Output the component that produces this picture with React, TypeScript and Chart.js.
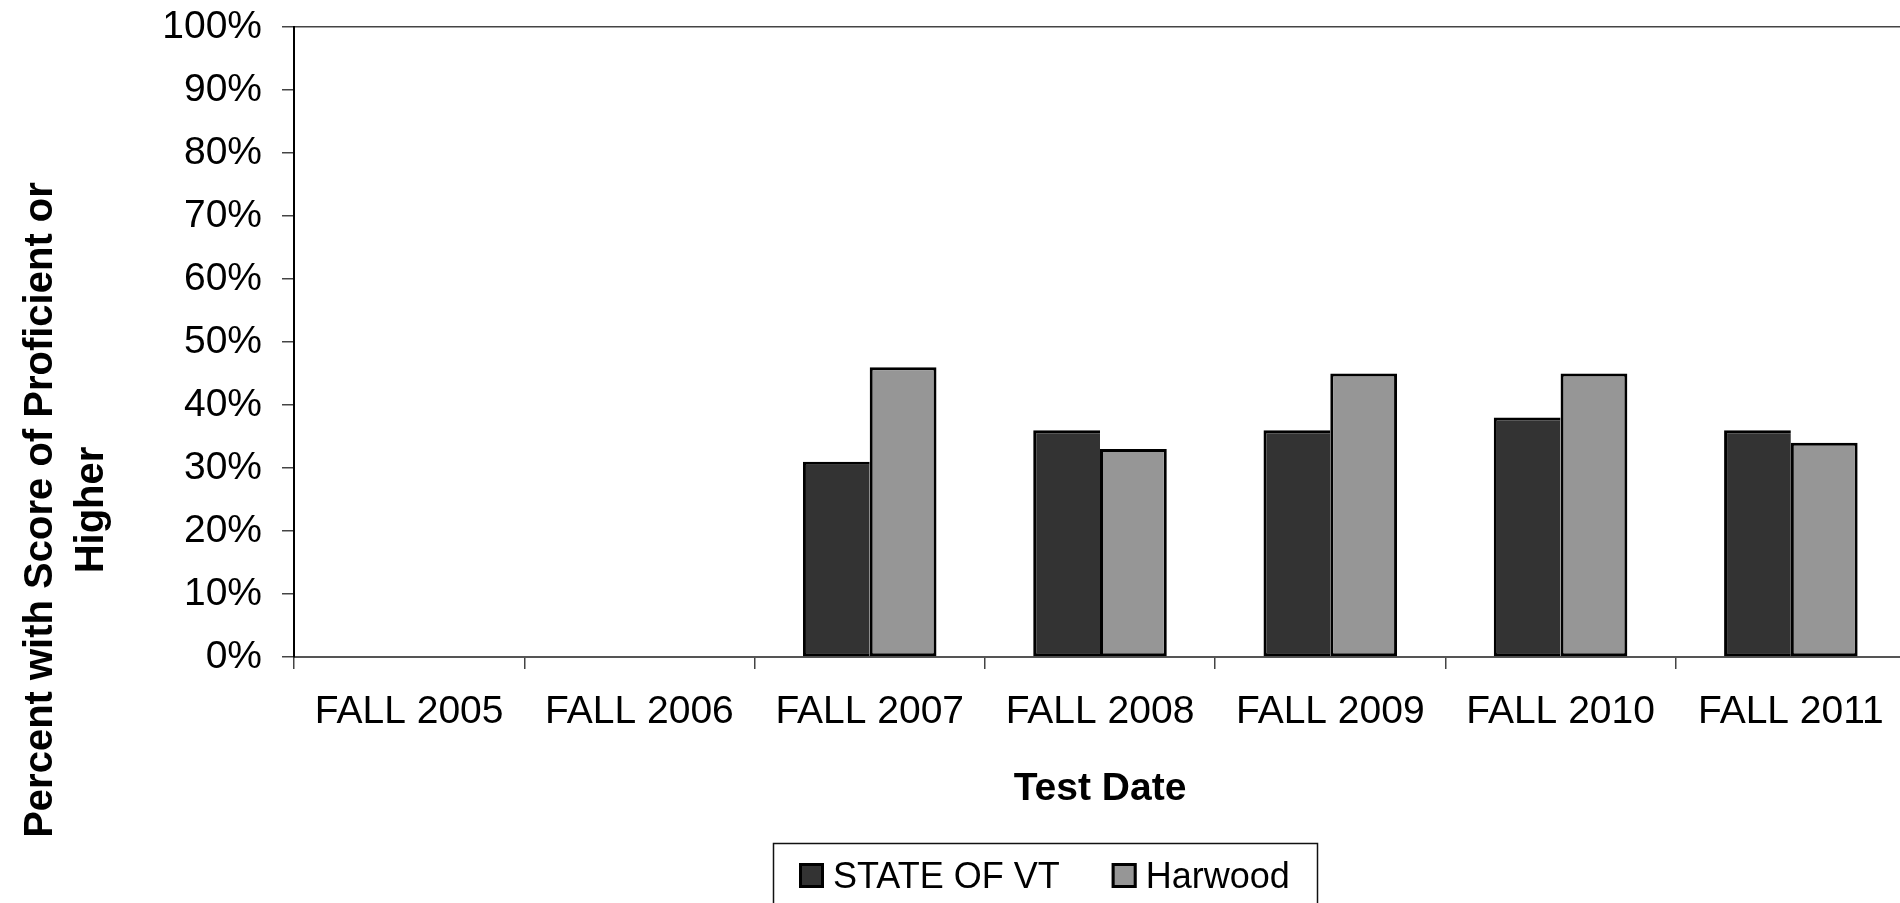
import React, { useEffect, useRef } from "react";
import { Chart, registerables } from "chart.js";

Chart.register(...registerables);

const categories = ["FALL 2005", "FALL 2006", "FALL 2007", "FALL 2008", "FALL 2009", "FALL 2010", "FALL 2011"];
const stateVT: (number | null)[] = [null, null, 31, 36, 36, 38, 36];
const harwood: (number | null)[] = [null, null, 46, 33, 45, 45, 34];
const seriesLabels = ["STATE OF VT", "Harwood"];
const seriesColors = ["#333333", "#969696"];
const yMin = 0;
const yMax = 100;
const yStep = 10;
const yTitleLines = ["Percent with Score of Proficient or", "Higher"];
const xTitle = "Test Date";

const FONT = "'Liberation Sans', Arial, Helvetica, sans-serif";

const customPlugin = {
  id: "customDecor",
  afterDraw(chart: any) {
    const ctx: CanvasRenderingContext2D = chart.ctx;
    // Y axis title (rotated, two lines)
    ctx.save();
    ctx.font = `bold 40px ${FONT}`;
    ctx.fillStyle = "#000";
    ctx.textAlign = "center";
    ctx.textBaseline = "alphabetic";
    ctx.translate(0, 510);
    ctx.rotate(-Math.PI / 2);
    ctx.fillText(yTitleLines[0], 0, 52);
    ctx.fillText(yTitleLines[1], 0, 103);
    ctx.restore();

    // Legend with border
    ctx.save();
    ctx.font = `36px ${FONT}`;
    ctx.textAlign = "left";
    ctx.textBaseline = "alphabetic";
    const size = 25;
    const top = 863;
    const baseline = 888;
    let x = 799;
    chart.data.datasets.forEach((d: any) => {
      ctx.fillStyle = d.backgroundColor;
      ctx.fillRect(x, top, size, size);
      ctx.strokeStyle = "#000";
      ctx.lineWidth = 3;
      ctx.strokeRect(x + 1.5, top + 1.5, size - 3, size - 3);
      x += size + 9;
      ctx.fillStyle = "#000";
      ctx.fillText(d.label, x, baseline);
      x += ctx.measureText(d.label).width + 52;
    });
    ctx.strokeStyle = "#111";
    ctx.lineWidth = 1.5;
    ctx.strokeRect(773.5, 843.5, 544, 120);
    ctx.restore();
  },
};

export default function App() {
  const ref = useRef<HTMLCanvasElement | null>(null);

  useEffect(() => {
    if (!ref.current) return;
    Chart.defaults.font.family = FONT;
    Chart.defaults.color = "#000";
    const chart = new Chart(ref.current, {
      type: "bar",
      data: {
        labels: categories,
        datasets: [
          {
            label: seriesLabels[0],
            data: stateVT,
            backgroundColor: seriesColors[0],
            borderColor: "#000",
            borderWidth: { top: 3, left: 3, right: 0, bottom: 3 },
            borderSkipped: false,
            categoryPercentage: 0.58,
            barPercentage: 1.0,
          },
          {
            label: seriesLabels[1],
            data: harwood,
            backgroundColor: seriesColors[1],
            borderColor: "#000",
            borderWidth: { top: 3, left: 3, right: 3, bottom: 3 },
            borderSkipped: false,
            categoryPercentage: 0.58,
            barPercentage: 1.0,
          },
        ],
      },
      options: {
        responsive: false,
        animation: false,
        layout: { padding: { top: 27, left: 0, right: 0, bottom: 0 } },
        plugins: {
          legend: { display: false },
          tooltip: { enabled: false },
          title: { display: false },
        },
        scales: {
          x: {
            grid: {
              display: true,
              drawOnChartArea: false,
              drawTicks: true,
              tickLength: 12,
              tickColor: "#444",
              lineWidth: 1.5,
              offset: true,
            },
            border: { display: true, color: "#555", width: 2 },
            ticks: {
              font: { size: 39 },
              color: "#000",
              padding: 20,
              maxRotation: 0,
              autoSkip: false,
            },
            title: {
              display: true,
              text: xTitle,
              font: { size: 39, weight: "bold" },
              color: "#000",
              padding: { top: 0, bottom: 90 },
            },
            afterFit: (scale: any) => {
              scale.height = 246;
              scale.paddingLeft = 0;
              scale.paddingRight = 0;
            },
          },
          y: {
            min: yMin,
            max: yMax,
            grid: {
              drawOnChartArea: true,
              drawTicks: true,
              tickLength: 12,
              tickColor: "#444",
              lineWidth: 1.5,
              color: (c: any) => (c.tick && c.tick.value === yMax ? "#444" : "rgba(0,0,0,0)"),
            },
            border: { display: true, color: "#000", width: 2 },
            ticks: {
              stepSize: yStep,
              font: { size: 39 },
              color: "#000",
              padding: 20,
              callback: (v: any) => `${v}%`,
            },
            afterFit: (scale: any) => {
              scale.width = 294;
              scale.paddingTop = 0;
              scale.paddingBottom = 0;
            },
          },
        },
      } as any,
      plugins: [customPlugin],
    });
    return () => chart.destroy();
  }, []);

  return (
    <div
      style={{
        position: "fixed",
        left: 0,
        top: 0,
        width: 1900,
        height: 903,
        overflow: "hidden",
        background: "#fff",
      }}
    >
      <canvas ref={ref} width={1906} height={903} style={{ display: "block", width: 1906, height: 903 }} />
    </div>
  );
}
